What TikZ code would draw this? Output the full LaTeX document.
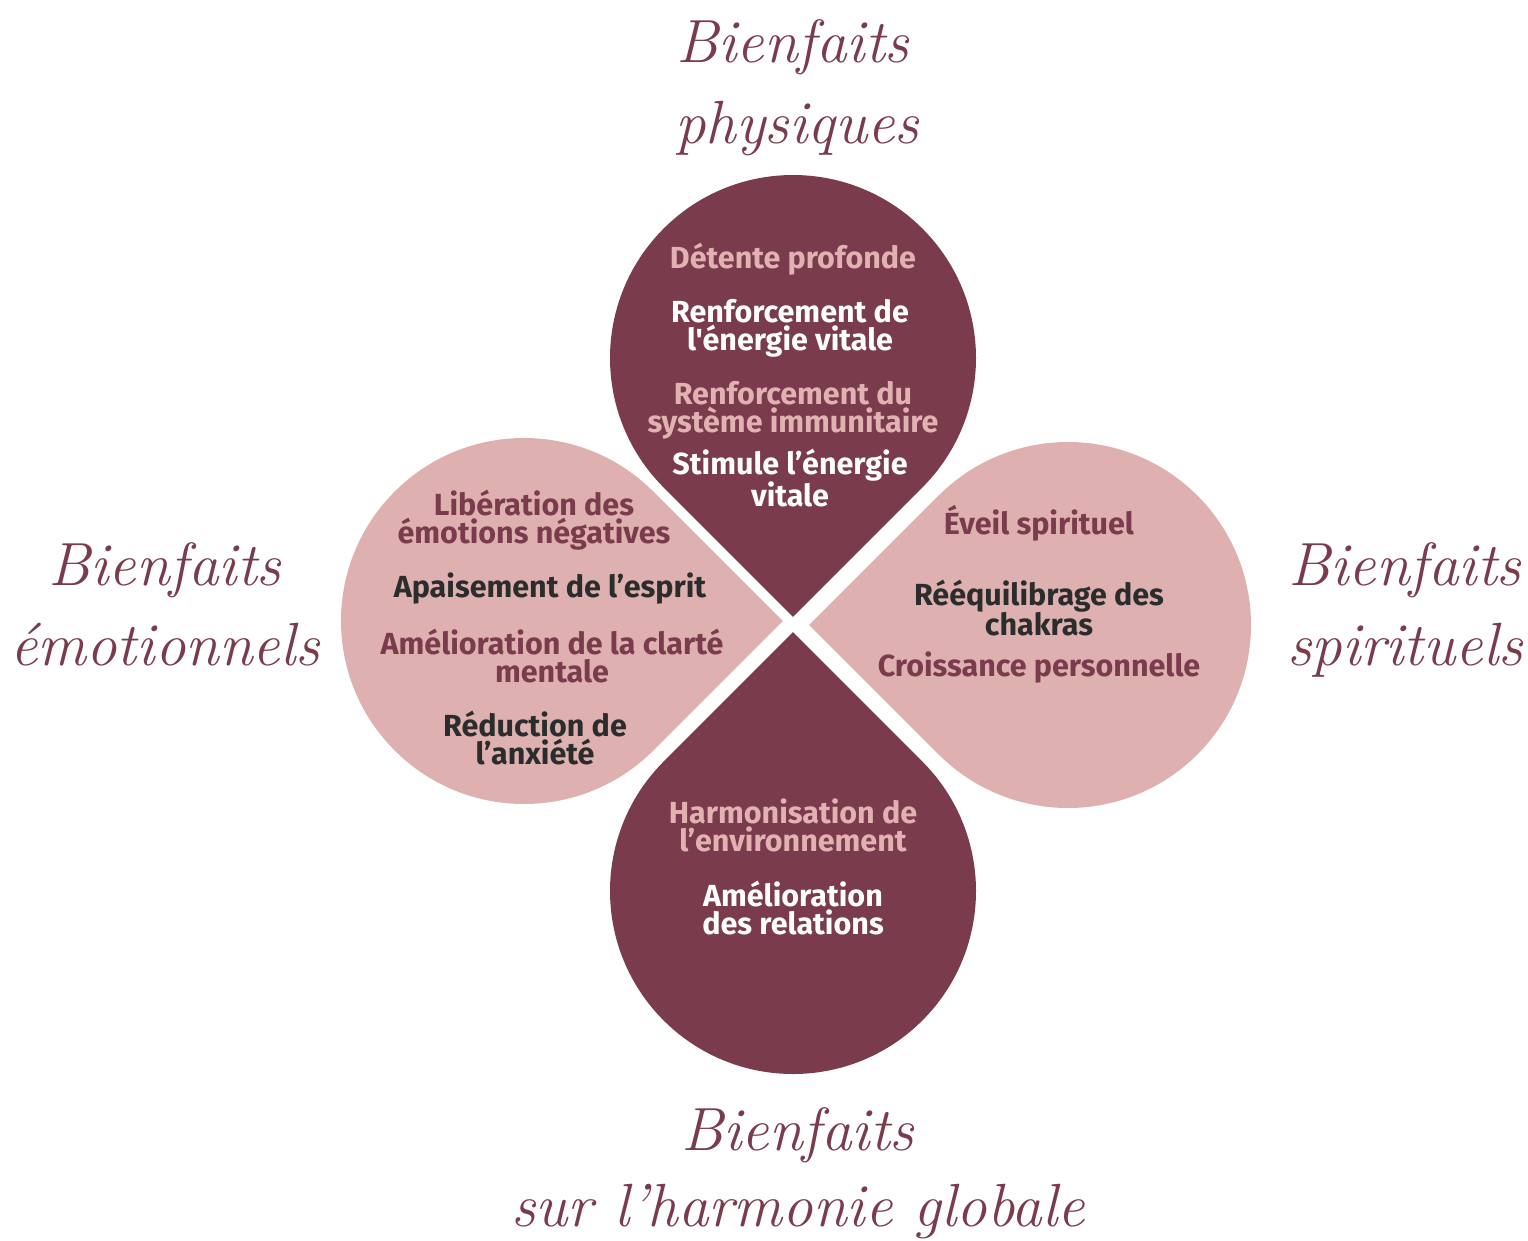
\documentclass[tikz,border=0pt]{standalone}
\usepackage{fontspec}
\newfontfamily\dropfont{Fira Sans}
\usetikzlibrary{calc}
\definecolor{plum}{HTML}{7A3C4C}
\definecolor{rose}{HTML}{DFB0B0}
\definecolor{ink}{HTML}{2B2D2D}
\definecolor{pinktxt}{HTML}{E2B2B2}
\newcommand\teardrop[4]{% fill, center, direction, radius
  \fill[#1] ($(#2)+(#3:{#4*1.41421})$) -- ($(#2)+(#3+45:#4)$)
    arc[start angle=#3+45, delta angle=270, radius=#4] -- cycle;}
\begin{document}
\begin{tikzpicture}[x=1pt,y=1pt,
  head/.style={text=plum, font=\fontsize{61}{80}\selectfont\itshape, inner sep=0pt, anchor=base},
  item/.style={font=\dropfont\bfseries\fontsize{30.5}{28}\selectfont, align=center, inner sep=0pt}]
\useasboundingbox (0,0) rectangle (1528,-1240);
\coordinate (ct) at (793,-358);
\coordinate (cb) at (793,-891);
\coordinate (cl) at (524,-621);
\coordinate (cr) at (1068,-625);
\teardrop{plum}{ct}{270}{183}
\teardrop{plum}{cb}{90}{183}
\teardrop{rose}{cl}{0}{183}
\teardrop{rose}{cr}{180}{183}

% top drop
\node[item, text=pinktxt] (t1) at (793,-259) {Détente profonde};
\node[item, text=white] (t2) at (790,-328) {Renforcement de\\l'énergie vitale};
\node[item, text=pinktxt] (t3) at (793,-410) {Renforcement du\\système immunitaire};
\node[item, text=white] (t4) at (790,-478) {Stimule l’énergie\\vitale};
% left drop
\node[item, text=plum] (l1) at (534,-520) {Libération des\\émotions négatives};
\node[item, text=ink] (l2) at (550,-589) {Apaisement de l’esprit};
\node[item, text=plum] (l3) at (552,-656) {Amélioration de la clarté\\mentale};
\node[item, text=ink] (l4) at (535,-738) {Réduction de\\l’anxiété};
% right drop
\node[item, text=plum] (r1) at (1039,-523) {Éveil spirituel};
\node[item, text=ink] (r2) at (1039,-608) {Rééquilibrage des\\chakras};
\node[item, text=plum] (r3) at (1039,-668) {Croissance personnelle};
% bottom drop
\node[item, text=pinktxt] (b1) at (793,-825) {Harmonisation de\\l’environnement};
\node[item, text=white] (b2) at (793,-908) {Amélioration\\des relations};

% headings
\node[head] (hp1) at (793,-62) {Bienfaits};
\node[head] (hp2) at (797,-143) {physiques};
\node[head] (he1) at (165,-585) {Bienfaits};
\node[head] (he2) at (165,-665) {émotionnels};
\node[head] (hs1) at (1405,-585) {Bienfaits};
\node[head] (hs2) at (1405,-665) {spirituels};
\node[head] (hg1) at (798,-1150) {Bienfaits};
\node[head] (hg2) at (798,-1226) {sur l’harmonie globale};
\end{tikzpicture}
\end{document}
